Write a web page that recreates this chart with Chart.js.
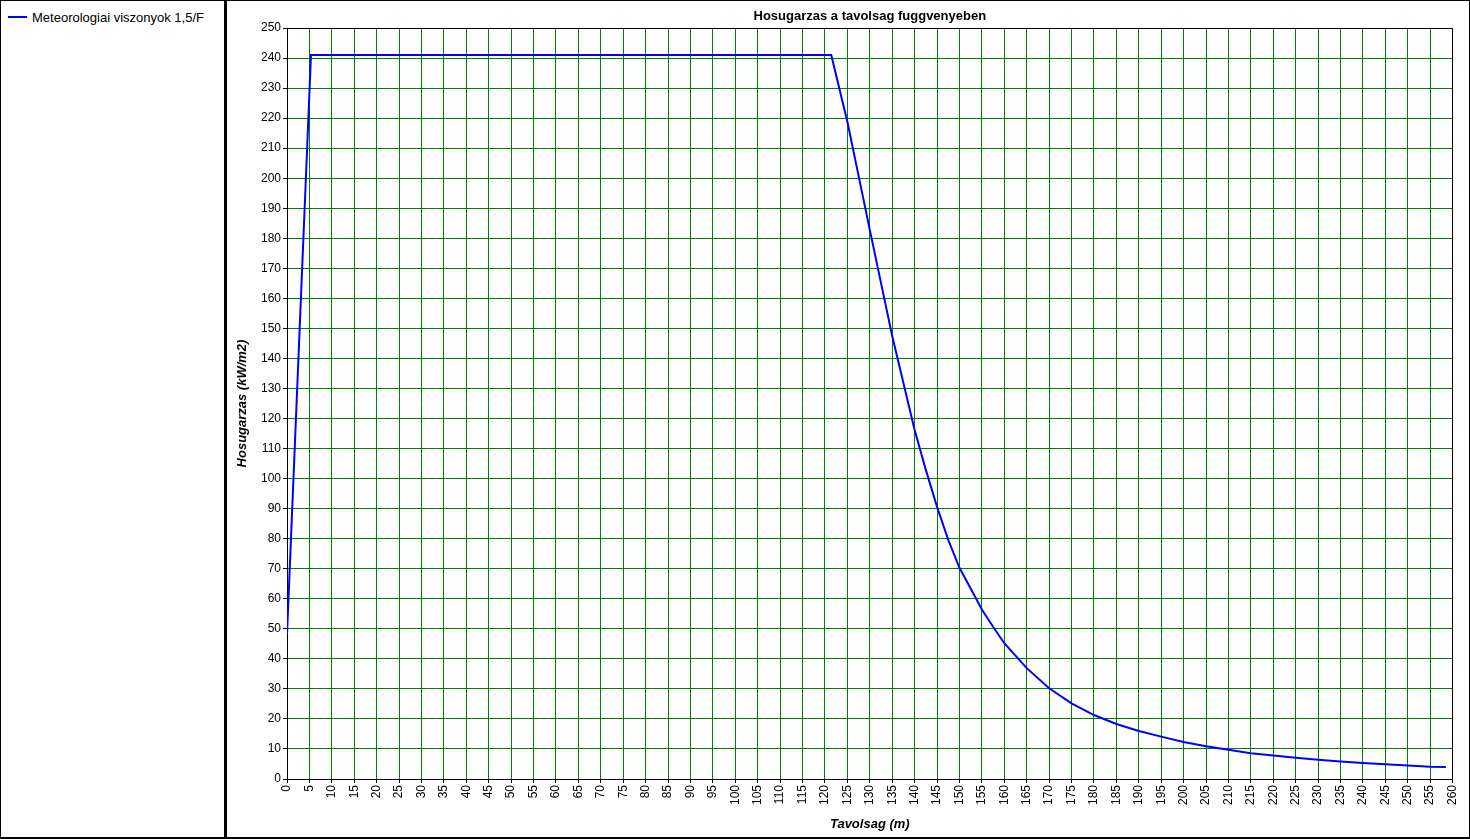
<!DOCTYPE html>
<html>
<head>
<meta charset="utf-8">
<script src="https://cdn.jsdelivr.net/npm/chart.js@4.4.0/dist/chart.umd.min.js"></script>
<style>
  html, body { margin: 0; padding: 0; background: #fff; }
  #wrap { position: relative; width: 1470px; height: 839px; overflow: hidden; background: #fff; }
  .bl { position: absolute; background: #000; }
  #legend { position: absolute; left: 8px; top: 9px; font-family: "Liberation Sans", Arial, sans-serif; font-size: 13px; color: #000; }
  #legend .item { display: flex; align-items: center; height: 16px; }
  #legend .sw { width: 19px; height: 2px; margin-right: 5px; }
  #cv { position: absolute; left: 227px; top: 1px; }
</style>
</head>
<body>
<div id="wrap">
  <div class="bl" style="left:0;top:0;width:1470px;height:1px"></div>
  <div class="bl" style="left:0;top:837px;width:1470px;height:2px"></div>
  <div class="bl" style="left:0;top:0;width:1px;height:839px"></div>
  <div class="bl" style="left:1469px;top:0;width:1px;height:839px"></div>
  <div class="bl" style="left:224px;top:0;width:3px;height:839px"></div>
  <div id="legend"></div>
  <canvas id="cv" width="1242" height="836"></canvas>
</div>
<script>
// ---- data ----
const seriesLabel = "Meteorologiai viszonyok 1,5/F";
const chartTitle = "Hosugarzas a tavolsag fuggvenyeben";
const xTitle = "Tavolsag (m)";
const yTitle = "Hosugarzas (kW/m2)";
const distance = [0, 5.35, 121.4, 125, 130, 135, 137.5, 140, 142.5, 145, 147.5, 150, 152.5, 155, 157.5, 160, 165, 170, 175, 180, 185, 190, 195, 200, 205, 210, 215, 220, 225, 230, 235, 240, 245, 250, 255, 258.5];
const radiation = [48, 241, 241, 218.8, 182.8, 147.5, 131.8, 116.2, 102.9, 90.6, 79.6, 70.3, 63.4, 56.4, 50.7, 45.2, 36.9, 30.2, 25.2, 21.3, 18.3, 16.0, 14.1, 12.3, 10.9, 9.7, 8.6, 7.8, 7.1, 6.4, 5.8, 5.3, 4.9, 4.5, 4.1, 4.0];
const xMin = 0, xMax = 260, xStep = 5;
const yMin = 0, yMax = 250, yStep = 10;

const FONT = '"Liberation Sans", Arial, sans-serif';
const GRID = '#008000';

// black top/right edge of the plot frame (left/bottom come from the axis borders)
const framePlugin = {
  id: 'frame',
  afterDraw(chart) {
    const a = chart.chartArea, ctx = chart.ctx;
    const l = Math.round(a.left) + 0.5, r = Math.round(a.right) - 0.5, t = Math.round(a.top) + 0.5, b = Math.round(a.bottom) + 0.5;
    ctx.save();
    ctx.strokeStyle = '#000';
    ctx.lineWidth = 1;
    ctx.beginPath();
    ctx.moveTo(l, t); ctx.lineTo(r, t); ctx.lineTo(r, b);
    ctx.stroke();
    ctx.restore();
  }
};

const chart = new Chart(document.getElementById('cv'), {
  type: 'line',
  data: {
    datasets: [{
      label: seriesLabel,
      data: distance.map((x, i) => ({ x: x, y: radiation[i] })),
      borderColor: '#0000FF',
      backgroundColor: '#0000FF',
      borderWidth: 2,
      pointRadius: 0,
      tension: 0,
      fill: false
    }]
  },
  options: {
    responsive: false,
    animation: false,
    layout: { padding: { left: 0, right: 16, top: 0, bottom: 0 } },
    plugins: {
      legend: { display: false },
      tooltip: { enabled: false },
      title: {
        display: true,
        text: chartTitle,
        fullSize: false,
        color: '#000',
        font: { family: FONT, size: 13, weight: 'bold' },
        padding: { top: 7.2, bottom: 4.2 }
      }
    },
    scales: {
      x: {
        type: 'linear',
        min: xMin, max: xMax,
        afterFit: s => { s.height = 58; },
        ticks: {
          stepSize: xStep,
          autoSkip: false,
          minRotation: 90, maxRotation: 90,
          color: '#000',
          padding: 2,
          font: { family: FONT, size: 12 }
        },
        grid: { color: GRID, lineWidth: 1, tickColor: '#000', tickLength: 4 },
        border: { color: '#000', width: 1 },
        title: {
          display: true, text: xTitle, color: '#000',
          font: { family: FONT, size: 13, weight: 'bold', style: 'italic' },
          padding: { top: 5.2, bottom: 5.2 }
        }
      },
      y: {
        type: 'linear',
        min: yMin, max: yMax,
        afterFit: s => { s.width = 60; },
        ticks: {
          stepSize: yStep,
          color: '#000',
          padding: 2,
          font: { family: FONT, size: 12 }
        },
        grid: { color: GRID, lineWidth: 1, tickColor: '#000', tickLength: 4 },
        border: { color: '#000', width: 1 },
        title: {
          display: true, text: yTitle, color: '#000',
          font: { family: FONT, size: 13, weight: 'bold', style: 'italic' },
          padding: { top: 7.2, bottom: 0 }
        }
      }
    }
  },
  plugins: [framePlugin]
});

// HTML legend built from the chart's datasets
const lg = document.getElementById('legend');
chart.data.datasets.forEach(ds => {
  const it = document.createElement('div');
  it.className = 'item';
  const sw = document.createElement('span');
  sw.className = 'sw';
  sw.style.background = ds.borderColor;
  const tx = document.createElement('span');
  tx.textContent = ds.label;
  it.appendChild(sw); it.appendChild(tx);
  lg.appendChild(it);
});
</script>
</body>
</html>
